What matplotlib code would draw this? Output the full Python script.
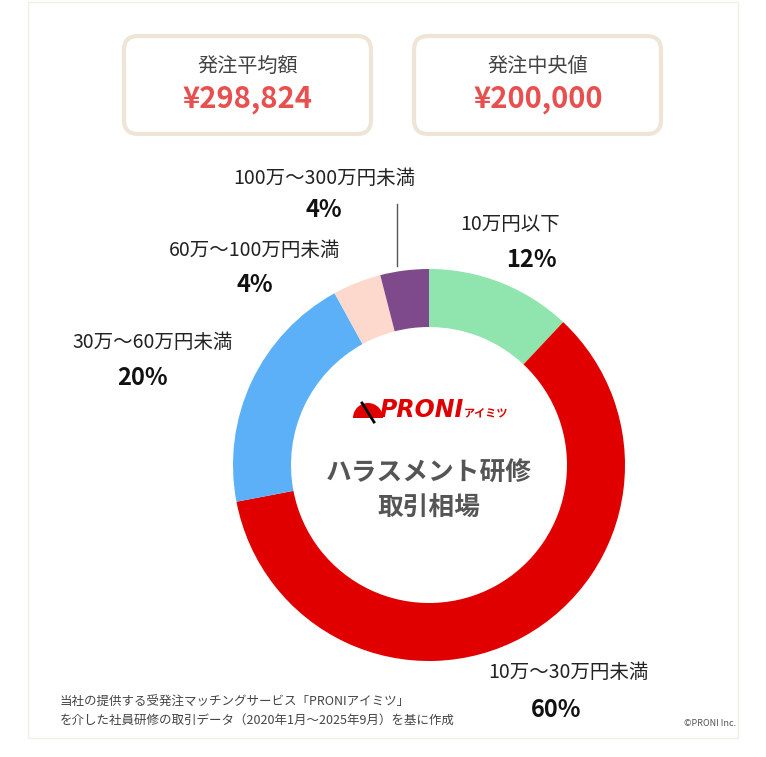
import matplotlib.pyplot as plt
from matplotlib.patches import FancyBboxPatch, Wedge, Rectangle

plt.rcParams['font.family'] = ['Noto Sans CJK JP', 'DejaVu Sans']

labels = ["10万円以下", "10万〜30万円未満", "30万〜60万円未満", "60万〜100万円未満", "100万〜300万円未満"]
shares = [12, 60, 20, 4, 4]
colors = ["#90e4ad", "#e00000", "#5cb0f8", "#fdd8cc", "#7e4a8c"]
stats = [("発注平均額", "¥298,824"), ("発注中央値", "¥200,000")]

W, H = 766, 757
fig = plt.figure(figsize=(W / 100, H / 100), dpi=100)
ax = fig.add_axes([0, 0, 1, 1])

def Y(y):
    return H - y

# donut
cx, cy = 429, Y(465)
ax.pie(shares, colors=colors, startangle=90, counterclock=False, center=(cx, cy),
       radius=196, wedgeprops=dict(width=58, ec="white", lw=0), frame=True)
ax.set_xlim(0, W)
ax.set_ylim(0, H)
ax.set_aspect("equal")
ax.axis("off")

# faint frame
ax.add_patch(Rectangle((28, Y(738)), 710, 736, fill=False, ec="#f4efe6", lw=1))

# stat boxes
for i, (title, val) in enumerate(stats):
    x0 = 124 + i * 290
    ax.add_patch(FancyBboxPatch((x0, Y(134)), 247, 98, boxstyle="round,pad=0,rounding_size=14",
                                fc="white", ec="#efe5d6", lw=3))
    ax.text(x0 + 124, Y(66), title, ha="center", va="center", fontsize=14.5, color="#444444")
    ax.text(x0 + 124, Y(99), val, ha="center", va="center", fontsize=21, fontweight="bold", color="#e85050")

# logo
ax.add_patch(Wedge((368, Y(418)), 15, 0, 180, fc="#e00000", ec="none"))
ax.plot([362, 374], [Y(403), Y(422)], color="black", lw=2)
ax.text(380, Y(410), "PRONI", ha="left", va="center", fontsize=17, fontweight="bold",
        fontstyle="italic", color="#e00000", family="DejaVu Sans")
ax.text(464, Y(413), "アイミツ", ha="left", va="center", fontsize=8, fontweight="bold", color="#e00000")
ax.text(cx, Y(473), "ハラスメント研修", ha="center", va="center", fontsize=18.5, fontweight="bold", color="#555555")
ax.text(cx, Y(508), "取引相場", ha="center", va="center", fontsize=18.5, fontweight="bold", color="#555555")

# category labels
pos = [(510, 225, 531, 260), (568, 672, 556, 710), (153, 342, 142, 378),
       (255, 250, 255, 285), (324, 178, 324, 210)]
for lab, s, (lx, ly, px, py) in zip(labels, shares, pos):
    ax.text(lx, Y(ly), lab, ha="center", va="center", fontsize=14, color="#222222")
    ax.text(px, Y(py), f"{s}%", ha="center", va="center", fontsize=17, fontweight="bold", color="#111111")
ax.plot([397, 397], [Y(204), Y(266)], color="#555555", lw=1)

ax.text(60, Y(702), "当社の提供する受発注マッチングサービス「PRONIアイミツ」", fontsize=9, color="#444444", va="center")
ax.text(60, Y(720), "を介した社員研修の取引データ（2020年1月〜2025年9月）を基に作成", fontsize=9, color="#444444", va="center")
ax.text(736, Y(724), "©PRONI Inc.", fontsize=6.5, color="#555555", ha="right", va="center")

fig.savefig("out.png", dpi=100, facecolor="white")
